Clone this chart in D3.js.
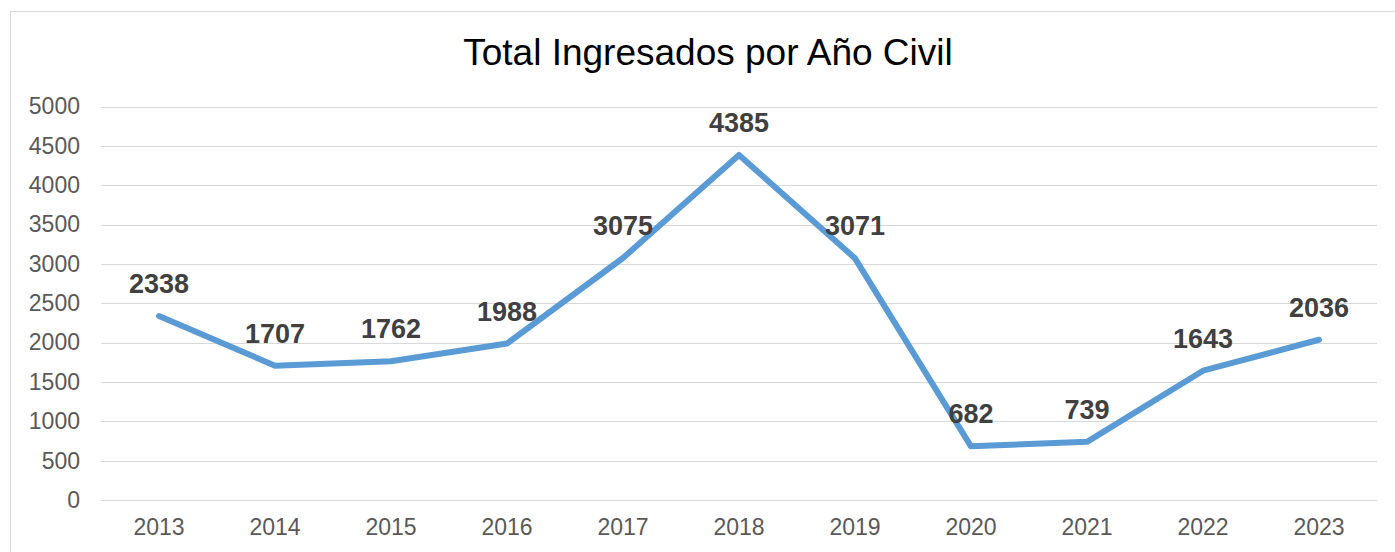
<!DOCTYPE html>
<html><head><meta charset="utf-8">
<script src="https://cdn.jsdelivr.net/npm/d3@7"></script>
<style>html,body{margin:0;padding:0;background:#fff;}svg{display:block;}</style>
</head><body>
<svg id="c" width="1395" height="552"></svg>
<script>
const title = "Total Ingresados por Año Civil";
const years = ["2013","2014","2015","2016","2017","2018","2019","2020","2021","2022","2023"];
const values = [2338,1707,1762,1988,3075,4385,3071,682,739,1643,2036];
const yTicks = [0,500,1000,1500,2000,2500,3000,3500,4000,4500,5000];

const svg = d3.select("#c");
const font = "'Liberation Sans', Arial, sans-serif";

// outer frame
svg.append("rect").attr("x",10.5).attr("y",11.5).attr("width",1400).attr("height",600)
  .attr("fill","none").attr("stroke","#d9d9d9").attr("stroke-width",1);

const x = d3.scaleBand().domain(years).range([101,1377]);
const y = d3.scaleLinear().domain([0,5000]).range([500,106.5]);

// gridlines
svg.append("g").selectAll("line").data(yTicks).join("line")
  .attr("x1",101).attr("x2",1377)
  .attr("y1",d=>Math.round(y(d))+0.5).attr("y2",d=>Math.round(y(d))+0.5)
  .attr("stroke","#d9d9d9").attr("stroke-width",1);

// y axis labels
const yAxis = d3.axisLeft(y).tickValues(yTicks).tickFormat(d3.format("d")).tickSize(0).tickPadding(0);
const gy = svg.append("g").attr("transform","translate(80,0)").call(yAxis);
gy.select(".domain").remove();
gy.selectAll("text").attr("font-family",font).attr("font-size",23).attr("fill","#595959");

// x axis labels
const xAxis = d3.axisBottom(x).tickSize(0).tickPadding(0);
const gx = svg.append("g").attr("transform","translate(0,519)").call(xAxis);
gx.select(".domain").remove();
gx.selectAll("text").attr("font-family",font).attr("font-size",23).attr("fill","#595959");

// line
const cx = d => x(d) + x.bandwidth()/2;
const line = d3.line().x((d,i)=>cx(years[i])).y(d=>y(d));
svg.append("path").datum(values).attr("d",line)
  .attr("fill","none").attr("stroke","#5b9bd5").attr("stroke-width",6)
  .attr("stroke-linejoin","round").attr("stroke-linecap","round");

// data labels
svg.append("g").selectAll("text").data(values).join("text")
  .attr("x",(d,i)=>cx(years[i])).attr("y",d=>y(d)-23)
  .attr("text-anchor","middle").attr("font-family",font).attr("font-size",27)
  .attr("font-weight","bold").attr("fill","#404040").text(d=>d);

// title
svg.append("text").attr("x",708).attr("y",65).attr("text-anchor","middle")
  .attr("font-family",font).attr("font-size",37).attr("fill","#000").text(title);
</script>
</body></html>
